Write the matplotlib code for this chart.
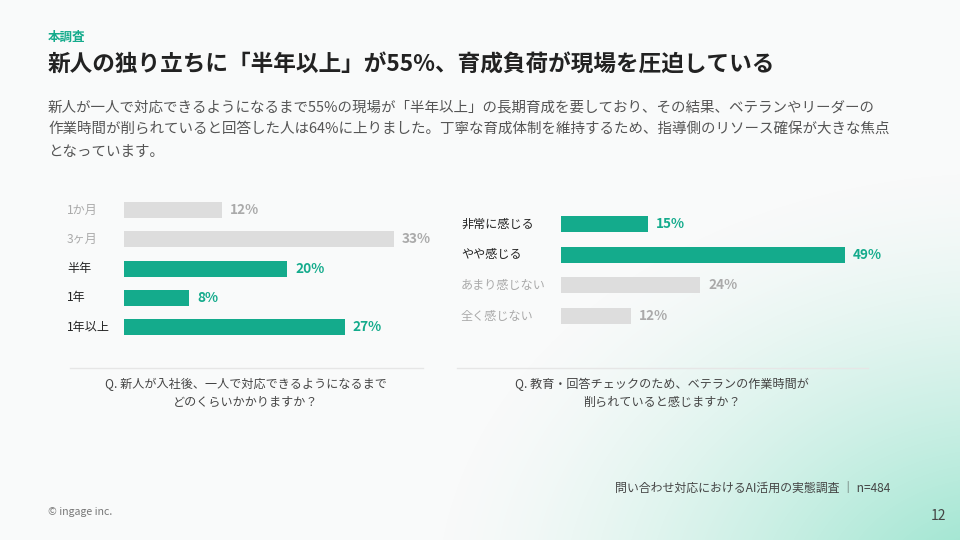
import numpy as np
import matplotlib.pyplot as plt

plt.rcParams['font.family'] = ['Noto Sans CJK JP', 'DejaVu Sans']

# data
left_cats = ['1か月', '3ヶ月', '半年', '1年', '1年以上']
left_vals = [12, 33, 20, 8, 27]
left_hi = [False, False, True, True, True]

right_cats = ['非常に感じる', 'やや感じる', 'あまり感じない', '全く感じない']
right_vals = [15, 49, 24, 12]
right_hi = [True, True, False, False]

TEAL = '#14ab8c'
GRAY_BAR = '#dddddd'
GRAY_TXT = '#aaaaaa'
W, H = 960, 540

fig = plt.figure(figsize=(9.6, 5.4), dpi=100)
fig.patch.set_facecolor('#f9fafa')


def fx(x):
    return x / W


def fy(y):
    return 1 - y / H


# background gradient (bottom right mint glow)
bg = fig.add_axes([0, 0, 1, 1], zorder=-10)
yy, xx = np.mgrid[0:H, 0:W]
d = np.sqrt(((xx - 1000) / 580.0) ** 2 + ((yy - 600) / 440.0) ** 2)
a = np.clip(1 - d, 0, 1) ** 1.5 * 0.8
img = np.zeros((H, W, 4))
img[..., 0] = 0.45
img[..., 1] = 0.86
img[..., 2] = 0.74
img[..., 3] = a
bg.imshow(img, extent=[0, W, H, 0], aspect='auto', interpolation='bilinear')
bg.set_xlim(0, W)
bg.set_ylim(H, 0)
bg.axis('off')

# header texts
fig.text(fx(48), fy(37), '本調査', color=TEAL, fontsize=9, fontweight='bold', va='center')
fig.text(fx(48), fy(65), '新人の独り立ちに「半年以上」が55%、育成負荷が現場を圧迫している',
         color='#222222', fontsize=16.3, fontweight='bold', va='center')
body = ['新人が一人で対応できるようになるまで55%の現場が「半年以上」の長期育成を要しており、その結果、ベテランやリーダーの',
        '作業時間が削られていると回答した人は64%に上りました。丁寧な育成体制を維持するため、指導側のリソース確保が大きな焦点',
        'となっています。']
for i, line in enumerate(body):
    fig.text(fx(48), fy(108 + 22 * i), line, color='#555555', fontsize=10.45, va='center')


def bar_panel(x0, top, spacing, scale, xmax, cats, vals, hi, lab_off):
    n = len(cats)
    ax = fig.add_axes([fx(x0), fy(top + spacing * n), xmax * scale / W, spacing * n / H])
    ax.set_xlim(0, xmax)
    ax.set_ylim(n - 0.5, -0.5)
    ax.axis('off')
    colors = [TEAL if h else GRAY_BAR for h in hi]
    ax.barh(range(n), vals, height=16 / spacing, color=colors)
    for i, (c, v, h) in enumerate(zip(cats, vals, hi)):
        ax.annotate(c, xy=(0, i), xytext=(lab_off, 0), textcoords='offset pixels',
                    va='center', ha='left', fontsize=8.7,
                    color='#222222' if h else GRAY_TXT)
        ax.annotate(f'{v}%', xy=(v, i), xytext=(8, 0), textcoords='offset pixels',
                    va='center', ha='left', fontsize=9.8, fontweight='bold',
                    color=TEAL if h else GRAY_TXT)
    return ax


bar_panel(124, 195.35, 29.3, 8.17, 40, left_cats, left_vals, left_hi, -57)
bar_panel(561, 208.65, 30.7, 5.8, 55, right_cats, right_vals, right_hi, -100)

# separators and questions
fig.add_artist(plt.Line2D([fx(70), fx(423)], [fy(368), fy(368)], color='#e6e6e6', lw=1))
fig.add_artist(plt.Line2D([fx(457), fx(868)], [fy(368), fy(368)], color='#e6e6e6', lw=1))
fig.text(fx(246), fy(393), 'Q. 新人が入社後、一人で対応できるようになるまで\nどのくらいかかりますか？',
         ha='center', va='center', fontsize=8.7, color='#444444', linespacing=1.5)
fig.text(fx(662), fy(393), 'Q. 教育・回答チェックのため、ベテランの作業時間が\n削られていると感じますか？',
         ha='center', va='center', fontsize=8.7, color='#444444', linespacing=1.5)

# footer
fig.text(fx(890), fy(489), '問い合わせ対応におけるAI活用の実態調査 ｜ n=484', ha='right', va='center',
         fontsize=8.6, color='#444444')
fig.text(fx(48), fy(512), '© ingage inc.', ha='left', va='center', fontsize=7.6, color='#777777')
fig.text(fx(946), fy(516), '12', ha='right', va='center', fontsize=10, color='#444444')

fig.savefig('out.png', dpi=100, facecolor=fig.get_facecolor())
